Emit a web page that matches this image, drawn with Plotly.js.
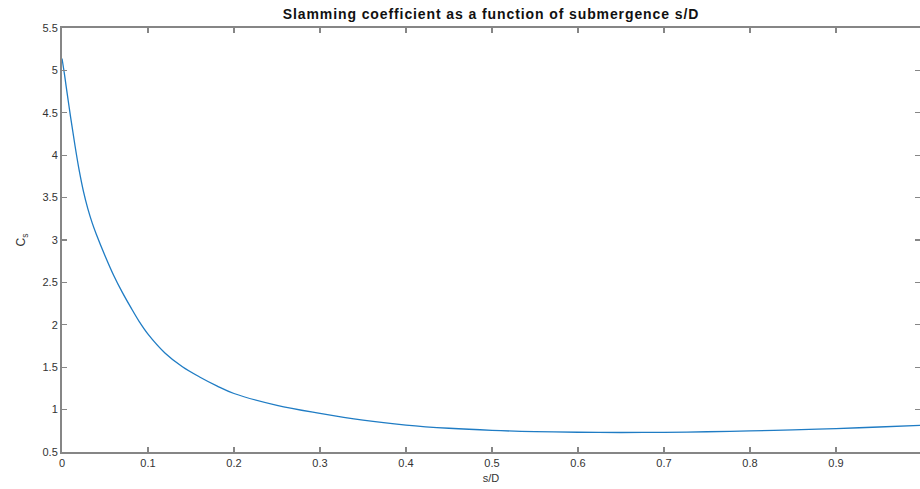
<!DOCTYPE html>
<html>
<head>
<meta charset="utf-8">
<script src="https://cdn.plot.ly/plotly-3.0.1.min.js"></script>
<style>
html,body{margin:0;padding:0;background:#fff;}
#chart{width:920px;height:489px;}
.gtitle{letter-spacing:0.9px;}
</style>
</head>
<body>
<div id="chart"></div>
<script>
var submergence = [0, 0.0025, 0.005, 0.01, 0.015, 0.02, 0.025, 0.03, 0.035, 0.04, 0.05, 0.06, 0.07, 0.08, 0.09, 0.1, 0.12, 0.14, 0.16, 0.18, 0.2, 0.25, 0.3, 0.35, 0.4, 0.45, 0.5, 0.55, 0.6, 0.65, 0.7, 0.75, 0.8, 0.85, 0.9, 0.95, 1.0];
var slammingCoef = [5.14, 4.98, 4.80, 4.45, 4.12, 3.82, 3.57, 3.37, 3.205, 3.065, 2.815, 2.585, 2.385, 2.205, 2.035, 1.89, 1.665, 1.505, 1.385, 1.28, 1.19, 1.05, 0.955, 0.875, 0.818, 0.780, 0.755, 0.740, 0.733, 0.730, 0.732, 0.739, 0.748, 0.76, 0.776, 0.795, 0.815];
var xTicks = [0, 0.1, 0.2, 0.3, 0.4, 0.5, 0.6, 0.7, 0.8, 0.9];
var xTickText = ['0', '0.1', '0.2', '0.3', '0.4', '0.5', '0.6', '0.7', '0.8', '0.9'];
var yTicks = [0.5, 1, 1.5, 2, 2.5, 3, 3.5, 4, 4.5, 5, 5.5];
var yTickText = ['0.5', '1', '1.5', '2', '2.5', '3', '3.5', '4', '4.5', '5', '5.5'];

var axisColor = '#868686';
var textColor = '#333333';
var font = {family: 'Liberation Sans, Arial, sans-serif', size: 11, color: textColor};

var trace = {
  x: submergence, y: slammingCoef, type: 'scatter', mode: 'lines',
  line: {color: '#1f7cc4', width: 1.3, shape: 'spline', smoothing: 1},
  hoverinfo: 'none'
};

var layout = {
  width: 920, height: 489,
  margin: {l: 62, r: 0, t: 28, b: 37, pad: 0},
  paper_bgcolor: '#ffffff', plot_bgcolor: '#ffffff',
  showlegend: false,
  font: font,
  title: {text: '<b>Slamming coefficient as a function of submergence s/D</b>',
          font: {family: 'Liberation Sans, Arial, sans-serif', size: 14, color: '#111111'},
          x: 0.5, xref: 'paper', xanchor: 'center', y: 0.972, yref: 'container', yanchor: 'middle'},
  xaxis: {
    range: [0, 0.99767], tickmode: 'array', tickvals: xTicks, ticktext: xTickText,
    ticks: 'inside', ticklen: 5, tickwidth: 1.2, tickcolor: axisColor,
    showline: true, linecolor: axisColor, linewidth: 2, mirror: 'ticks',
    showgrid: false, zeroline: false, tickfont: font,
    title: {text: 's/D', font: font, standoff: 6}
  },
  yaxis: {
    range: [0.5, 5.5], tickmode: 'array', tickvals: yTicks, ticktext: yTickText,
    ticks: 'inside', ticklen: 5, tickwidth: 1.2, tickcolor: axisColor,
    showline: true, linecolor: axisColor, linewidth: 2, mirror: 'ticks',
    showgrid: false, zeroline: false, tickfont: font,
    title: {text: 'C<sub>s</sub>', font: {family: 'Liberation Sans, Arial, sans-serif', size: 12, color: textColor}, standoff: 14}
  }
};

Plotly.newPlot('chart', [trace], layout, {staticPlot: true, displayModeBar: false});
</script>
</body>
</html>
